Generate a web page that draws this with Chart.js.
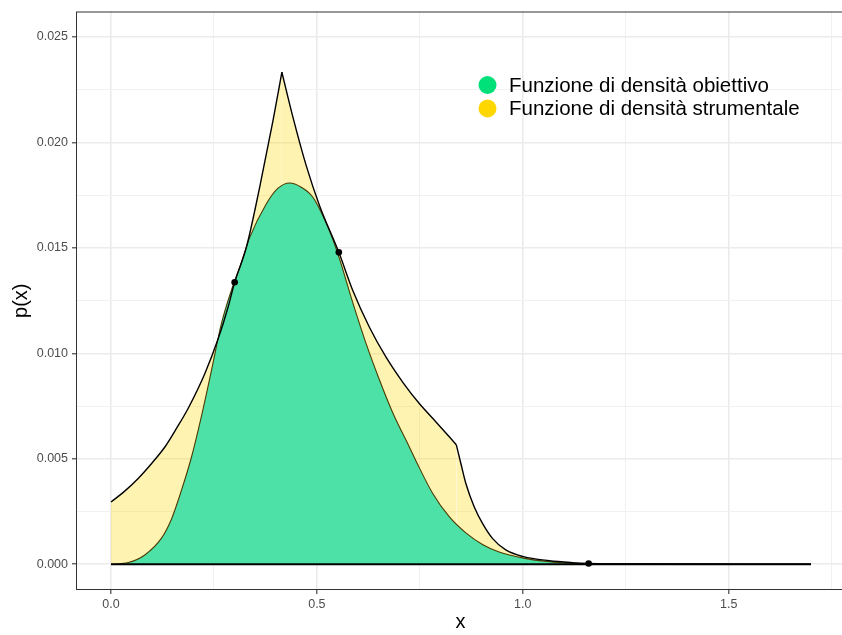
<!DOCTYPE html>
<html>
<head>
<meta charset="utf-8">
<script src="https://cdn.jsdelivr.net/npm/chart.js@4/dist/chart.umd.min.js"></script>
<style>
  html, body { margin: 0; padding: 0; overflow: hidden; background: #fff; }
  #wrap { width: 850px; height: 635px; position: relative; }
</style>
</head>
<body>
<div id="wrap"><canvas id="c"></canvas></div>
<script>
// Target density (obiettivo)
const targetX = [0, 0.042, 0.082, 0.123, 0.147, 0.171, 0.195, 0.220, 0.244, 0.268, 0.2925, 0.3127,
  0.337, 0.377, 0.405, 0.4337, 0.462, 0.4903, 0.5307, 0.553, 0.587, 0.6196, 0.6518, 0.684, 0.7245,
  0.7407, 0.781, 0.8214, 0.8618, 0.9022, 0.9426, 1.0015, 1.064, 1.12, 1.2, 1.7];
const targetY = [0, 0.00008, 0.00044, 0.00125, 0.00215, 0.0035, 0.00505, 0.00705, 0.00919, 0.0114, 0.0130, 0.01408,
  0.0155, 0.01708, 0.01782, 0.01808, 0.01788, 0.0174, 0.0158, 0.0146, 0.01242, 0.01046, 0.00875, 0.0072, 0.00556,
  0.0049, 0.00337, 0.00226, 0.00149, 0.00094, 0.00058, 0.00029, 0.00012, 0.00005, 0.00002, 0];

// Instrumental density (strumentale): three exponential pieces of the envelope
const envLeftX = [0, 0.034, 0.066, 0.0986, 0.1308, 0.159, 0.1875, 0.228, 0.26, 0.2845, 0.3003, 0.3288, 0.361, 0.3933, 0.415];
const envLeftY = [0.00295, 0.00348, 0.00407, 0.00478, 0.00556, 0.00644, 0.0074, 0.00905, 0.01068, 0.0122, 0.01337, 0.01503, 0.01787, 0.02102, 0.02333];
const envMidX = [0.415, 0.4418, 0.4741, 0.5065, 0.5533, 0.5872, 0.6276, 0.668, 0.7083, 0.7487, 0.7892, 0.8385];
const envMidY = [0.02333, 0.0212, 0.0189, 0.0170, 0.01479, 0.01298, 0.01124, 0.00982, 0.00864, 0.00762, 0.00675, 0.00567];
const envRightX = [0.8385, 0.8497, 0.8618, 0.882, 0.9022, 0.9264, 0.9587, 1.0015, 1.0645, 1.12, 1.16, 1.3, 1.7];
const envRightY = [0.00567, 0.00478, 0.00383, 0.00273, 0.00194, 0.00123, 0.00068, 0.00036, 0.00017, 0.00008, 0.00004, 0.00001, 0];

// Abscissae where the envelope touches the target
const knotX = [0.3003, 0.5533, 1.16];
const knotY = [0.01337, 0.01479, 0.00004];

// Axis ticks
const xMajor = [0, 0.5, 1, 1.5];
const xMajorLabels = ['0.0', '0.5', '1.0', '1.5'];
const xMinor = [0.25, 0.75, 1.25, 1.75];
const yMajor = [0, 0.005, 0.01, 0.015, 0.02, 0.025];
const yMajorLabels = ['0.000', '0.005', '0.010', '0.015', '0.020', '0.025'];
const yMinor = [0.0025, 0.0075, 0.0125, 0.0175, 0.0225];

// Legend entries
const legendLabels = ['Funzione di densità obiettivo', 'Funzione di densità strumentale'];
const legendColors = ['#00E078', '#FFD700'];

const zip = (xs, ys) => xs.map((x, i) => ({ x: x, y: ys[i] }));
const near = (a, b) => Math.abs(a - b) < 1e-9;
const isMajor = (v, list) => list.some(m => near(m, v));

function gridColor(list) {
  return ctx => (ctx.tick && isMajor(ctx.tick.value, list)) ? '#EBEBEB' : '#F1F1F1';
}
function gridWidth(list) {
  return ctx => (ctx.tick && isMajor(ctx.tick.value, list)) ? 1.6 : 1;
}
function tickColor(list) {
  return ctx => (ctx.tick && isMajor(ctx.tick.value, list)) ? '#333333' : 'rgba(0,0,0,0)';
}

const envPieces = [[envLeftX, envLeftY], [envMidX, envMidY], [envRightX, envRightY]];

const envFills = envPieces.map(([xs, ys]) => ({
  label: legendLabels[1],
  data: zip(xs, ys),
  fill: 'origin',
  backgroundColor: 'rgba(255,215,0,0.3)',
  borderWidth: 0,
  borderColor: 'rgba(0,0,0,0)',
  pointRadius: 0,
  cubicInterpolationMode: 'monotone',
  order: 3
}));
const envLines = envPieces.map(([xs, ys]) => ({
  label: 'envelope',
  data: zip(xs, ys),
  fill: false,
  borderColor: '#000',
  borderWidth: 1.4,
  pointRadius: 0,
  cubicInterpolationMode: 'monotone',
  order: 1
}));

const decor = {
  id: 'decor',
  afterDatasetsDraw(chart) {
    const { ctx, chartArea: a } = chart;
    ctx.save();
    ctx.strokeStyle = '#333333';
    ctx.lineWidth = 1;
    ctx.strokeRect(a.left + 0.5, a.top + 0.5, a.right - a.left - 1, a.bottom - a.top - 1);
    ctx.restore();
  },
  afterDraw(chart) {
    const { ctx, chartArea: a } = chart;
    ctx.save();
    // axis titles
    ctx.fillStyle = '#000';
    ctx.font = '20px "Liberation Sans", Arial, sans-serif';
    ctx.textAlign = 'center';
    ctx.textBaseline = 'middle';
    ctx.fillText('x', (a.left + a.right) / 2 - 0.5, 622);
    ctx.translate(21, (a.top + a.bottom) / 2);
    ctx.rotate(-Math.PI / 2);
    ctx.fillText('p(x)', 0, 0);
    ctx.restore();

    // legend inside the panel
    ctx.save();
    ctx.font = '20.5px "Liberation Sans", Arial, sans-serif';
    ctx.textAlign = 'left';
    ctx.textBaseline = 'alphabetic';
    legendLabels.forEach((label, i) => {
      const cy = 85 + i * 23.5;
      ctx.beginPath();
      ctx.arc(487.5, cy, 9, 0, Math.PI * 2);
      ctx.fillStyle = legendColors[i];
      ctx.fill();
      ctx.fillStyle = '#000';
      ctx.fillText(label, 509, cy + 6.5);
    });
    ctx.restore();
  }
};

new Chart(document.getElementById('c'), {
  type: 'line',
  data: {
    datasets: [
      {
        label: 'knots',
        data: zip(knotX, knotY),
        showLine: false,
        pointRadius: 3.3,
        pointBackgroundColor: '#000',
        pointBorderWidth: 0,
        order: 0
      },
      ...envLines,
      {
        label: 'baseline',
        data: [{ x: 0, y: 0 }, { x: 1.7, y: 0 }],
        fill: false,
        borderColor: '#000',
        borderWidth: 2,
        pointRadius: 0,
        order: 1
      },
      {
        label: legendLabels[0],
        data: zip(targetX, targetY),
        fill: 'origin',
        backgroundColor: 'rgb(77,225,167)',
        borderColor: '#4D3B00',
        borderWidth: 1.1,
        pointRadius: 0,
        cubicInterpolationMode: 'monotone',
        order: 2
      },
      ...envFills
    ]
  },
  options: {
    responsive: true,
    maintainAspectRatio: false,
    animation: false,
    devicePixelRatio: 1,
    layout: { padding: { top: 10, right: 2, bottom: 0, left: 0 } },
    plugins: { legend: { display: false }, tooltip: { enabled: false } },
    scales: {
      x: {
        type: 'linear',
        min: -0.085,
        max: 1.785,
        afterBuildTicks: axis => { axis.ticks = xMajor.concat(xMinor).sort((p, q) => p - q).map(v => ({ value: v })); },
        afterFit: axis => { axis.height = 45; },
        ticks: {
          autoSkip: false,
          maxRotation: 0,
          padding: 3,
          color: '#4D4D4D',
          font: { size: 12.5, family: '"Liberation Sans", Arial, sans-serif' },
          callback: v => { const i = xMajor.findIndex(m => near(m, v)); return i >= 0 ? xMajorLabels[i] : ''; }
        },
        grid: {
          color: gridColor(xMajor),
          lineWidth: gridWidth(xMajor),
          tickColor: tickColor(xMajor),
          tickLength: 4,
          tickWidth: 1.1
        },
        border: { display: false }
      },
      y: {
        type: 'linear',
        min: -0.00122,
        max: 0.02621,
        afterBuildTicks: axis => { axis.ticks = yMajor.concat(yMinor).sort((p, q) => p - q).map(v => ({ value: v })); },
        afterFit: axis => { axis.width = 76; },
        ticks: {
          autoSkip: false,
          padding: 4,
          color: '#4D4D4D',
          font: { size: 12.5, family: '"Liberation Sans", Arial, sans-serif' },
          callback: v => { const i = yMajor.findIndex(m => near(m, v)); return i >= 0 ? yMajorLabels[i] : ''; }
        },
        grid: {
          color: gridColor(yMajor),
          lineWidth: gridWidth(yMajor),
          tickColor: tickColor(yMajor),
          tickLength: 4,
          tickWidth: 1.1
        },
        border: { display: false }
      }
    }
  },
  plugins: [decor]
});
</script>
</body>
</html>
